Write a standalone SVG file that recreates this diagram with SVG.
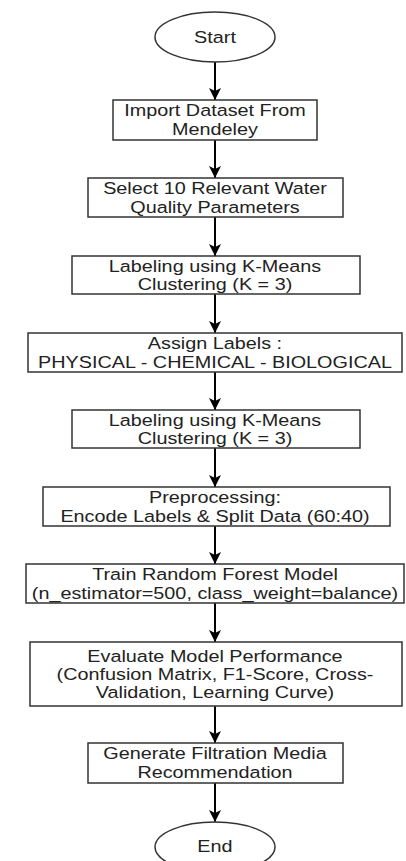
<svg xmlns="http://www.w3.org/2000/svg" width="406" height="861" viewBox="0 0 406 861">
<defs>
<style>
.box{fill:#fff;stroke:#333;stroke-width:1.5}
.t{font-family:"Liberation Sans",Arial,sans-serif;font-size:16.5px;fill:#222;text-anchor:middle;transform:scale(1.2,1);transform-origin:215px 0px}
.c{stroke:#000;stroke-width:2;fill:none}
</style>
<marker id="ah" markerWidth="12" markerHeight="12" viewBox="0 0 12 12" refX="12" refY="6" orient="auto" markerUnits="userSpaceOnUse">
<path d="M0,0 L12,6 L0,12 L3,6 Z" fill="#000"/>
</marker>
</defs>
<rect width="406" height="861" fill="#fff"/>
<g id="connectors">
<line class="c" x1="215" y1="62" x2="215" y2="100" marker-end="url(#ah)"/>
<line class="c" x1="215" y1="140" x2="215" y2="178" marker-end="url(#ah)"/>
<line class="c" x1="215" y1="217" x2="215" y2="256" marker-end="url(#ah)"/>
<line class="c" x1="215" y1="294" x2="215" y2="333" marker-end="url(#ah)"/>
<line class="c" x1="215" y1="372" x2="215" y2="410" marker-end="url(#ah)"/>
<line class="c" x1="215" y1="448" x2="215" y2="487" marker-end="url(#ah)"/>
<line class="c" x1="215" y1="526" x2="215" y2="564" marker-end="url(#ah)"/>
<line class="c" x1="215" y1="603" x2="215" y2="642" marker-end="url(#ah)"/>
<line class="c" x1="215" y1="706" x2="215" y2="743" marker-end="url(#ah)"/>
<line class="c" x1="215" y1="783" x2="215" y2="822" marker-end="url(#ah)"/>
</g>
<g id="start">
<ellipse class="box" cx="215" cy="37" rx="60" ry="25"/>
<text class="t" x="215" y="43">Start</text>
</g>
<g id="import">
<rect class="box" x="113" y="100" width="204" height="40"/>
<text class="t" x="215" y="116">Import Dataset From</text>
<text class="t" x="215" y="135">Mendeley</text>
</g>
<g id="select">
<rect class="box" x="88" y="178" width="255" height="39"/>
<text class="t" x="215" y="194">Select 10 Relevant Water</text>
<text class="t" x="215" y="213">Quality Parameters</text>
</g>
<g id="labeling1">
<rect class="box" x="72" y="256" width="288" height="38"/>
<text class="t" x="215" y="272">Labeling using K-Means</text>
<text class="t" x="215" y="290">Clustering (K = 3)</text>
</g>
<g id="assign">
<rect class="box" x="28" y="333" width="374" height="39"/>
<text class="t" x="215" y="349">Assign Labels :</text>
<text class="t" x="215" y="368">PHYSICAL - CHEMICAL - BIOLOGICAL</text>
</g>
<g id="labeling2">
<rect class="box" x="72" y="410" width="288" height="38"/>
<text class="t" x="215" y="426">Labeling using K-Means</text>
<text class="t" x="215" y="444">Clustering (K = 3)</text>
</g>
<g id="preprocessing">
<rect class="box" x="43" y="487" width="347" height="39"/>
<text class="t" x="215" y="503">Preprocessing:</text>
<text class="t" x="215" y="522">Encode Labels &amp; Split Data (60:40)</text>
</g>
<g id="train">
<rect class="box" x="26" y="564" width="378" height="39"/>
<text class="t" x="215" y="580">Train Random Forest Model</text>
<text class="t" x="215" y="599">(n_estimator=500, class_weight=balance)</text>
</g>
<g id="evaluate">
<rect class="box" x="30" y="642" width="372" height="64"/>
<text class="t" x="215" y="662">Evaluate Model Performance</text>
<text class="t" x="215" y="680">(Confusion Matrix, F1-Score, Cross-</text>
<text class="t" x="215" y="698">Validation, Learning Curve)</text>
</g>
<g id="generate">
<rect class="box" x="88" y="743" width="255" height="40"/>
<text class="t" x="215" y="759">Generate Filtration Media</text>
<text class="t" x="215" y="778">Recommendation</text>
</g>
<g id="end">
<ellipse class="box" cx="215" cy="847" rx="60" ry="25"/>
<text class="t" x="215" y="852">End</text>
</g>
</svg>
